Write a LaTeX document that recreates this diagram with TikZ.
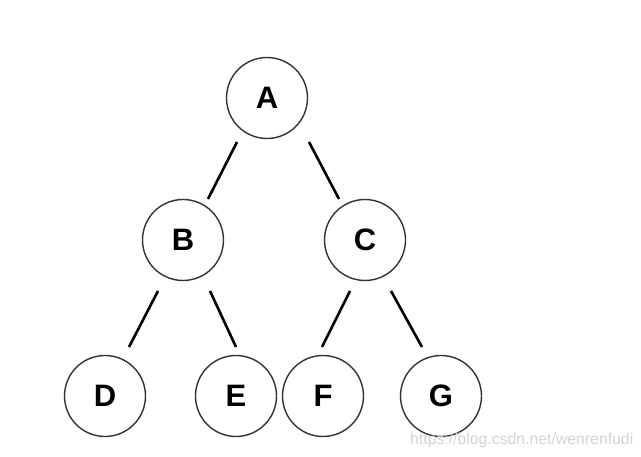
\documentclass[tikz,border=0pt]{standalone}
\usepackage{fontspec}
\setmainfont{Liberation Sans}
\usetikzlibrary{calc}
\definecolor{ringcol}{HTML}{333333}
\definecolor{markcol}{HTML}{D4D4D4}
\begin{document}
\begin{tikzpicture}[x=1pt,y=-1pt,
  treenode/.style={circle,draw=ringcol,line width=1.4pt,minimum size=81pt,inner sep=0pt,
    font=\fontsize{31}{31}\selectfont\bfseries},
  edge/.style={line width=2.6pt,black}]
\useasboundingbox (0,0) rectangle (641,457);
\fill[white] (0,0) rectangle (641,457);
\node[treenode] (A) at (267,98) {A};
\node[treenode] (B) at (183,240) {B};
\node[treenode] (C) at (365,240) {C};
\node[treenode] (D) at (105,396) {D};
\node[treenode] (E) at (236,396) {E};
\node[treenode] (F) at (323,396) {F};
\node[treenode] (G) at (441,396) {G};
\draw[edge] ($(A)+(-30,44)$) -- ($(B)+(25,-41)$);
\draw[edge] ($(A)+(42,44)$) -- ($(C)+(-26,-41)$);
\draw[edge] ($(B)+(-25,51)$) -- ($(D)+(24,-49)$);
\draw[edge] ($(B)+(27,51)$) -- ($(E)+(0,-49)$);
\draw[edge] ($(C)+(-15,51)$) -- ($(F)+(-1,-49)$);
\draw[edge] ($(C)+(26,51)$) -- ($(G)+(-19,-49)$);
\node[anchor=west,text=markcol,font=\fontsize{15.8}{15.8}\selectfont,inner sep=0pt] (wm) at (410,440) {https://blog.csdn.net/wenrenfudi};
\end{tikzpicture}
\end{document}
